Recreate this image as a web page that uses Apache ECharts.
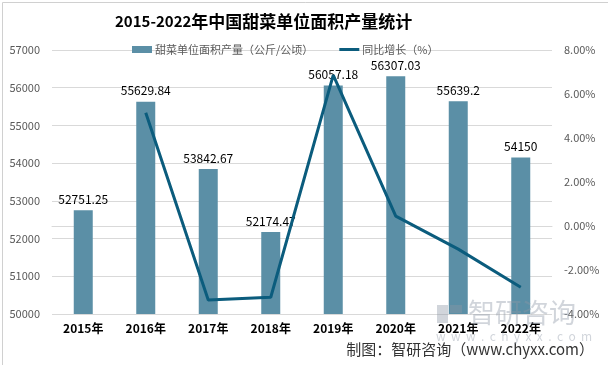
<!DOCTYPE html>
<html><head><meta charset="utf-8">
<script src="https://cdn.jsdelivr.net/npm/echarts@6/dist/echarts.min.js"></script>
<style>html,body{margin:0;padding:0;background:#fff}#c{width:608px;height:365px}</style>
</head><body><div id="c"></div>
<script>
const categories = ['2015年','2016年','2017年','2018年','2019年','2020年','2021年','2022年'];
const yieldValues = [52751.25, 55629.84, 53842.67, 52174.47, 56057.18, 56307.03, 55639.2, 54150];
const growthValues = [null, 5.15, -3.36, -3.24, 6.86, 0.45, -1.05, -2.78];
const leftTicks = {min: 50000, max: 57000, interval: 1000};
const rightTicks = {min: -4, max: 8, interval: 2};

const chart = echarts.init(document.getElementById('c'), null, {renderer: 'canvas'});
const font = '"Noto Sans CJK SC","Noto Sans",sans-serif';
const wm = 'rgba(140,150,165,0.4)';
chart.setOption({
  animation: false,
  backgroundColor: '#fff',
  title: {
    text: '{a|2015-2022}{b|年中国甜菜单位面积产量统计}',
    left: 110, top: 8,
    textStyle: {
      rich: {
        a: {fontSize: 15, fontWeight: 'bold', color: '#000', fontFamily: font},
        b: {fontSize: 17, fontWeight: 'bold', color: '#000', fontFamily: font}
      }
    }
  },
  legend: {
    top: 39, left: 127, itemGap: 26,
    symbolKeepAspect: true,
    textStyle: {fontSize: 11, color: '#595959', fontFamily: font, padding: [0, 0, 0, -2]},
    data: [
      {name: '甜菜单位面积产量（公斤/公顷）', icon: 'rect'},
      {name: '同比增长（%）', icon: 'path://M0,0 L20,0 L20,3 L0,3 Z', itemStyle: {color: '#0b5c7d'}}
    ],
    itemWidth: 20, itemHeight: 7
  },
  grid: {left: 52, right: 56, top: 50, bottom: 51},
  xAxis: {
    type: 'category', data: categories,
    axisLine: {lineStyle: {color: '#d9d9d9'}},
    axisTick: {show: false},
    axisLabel: {color: '#000', fontWeight: 'bold', fontSize: 12, margin: 8, fontFamily: font}
  },
  yAxis: [
    {type: 'value', min: leftTicks.min, max: leftTicks.max, interval: leftTicks.interval,
     axisLine: {show: false}, axisTick: {show: false},
     axisLabel: {color: '#595959', fontSize: 11, margin: 12, fontFamily: font, formatter: v => String(v)},
     splitLine: {lineStyle: {color: '#d9d9d9'}}},
    {type: 'value', min: rightTicks.min, max: rightTicks.max, interval: rightTicks.interval,
     axisLine: {show: false}, axisTick: {show: false}, splitLine: {show: false},
     axisLabel: {color: '#595959', fontSize: 11, margin: 12, fontFamily: font,
       formatter: v => v.toFixed(2) + '%'}}
  ],
  series: [
    {name: '甜菜单位面积产量（公斤/公顷）', type: 'bar', data: yieldValues, barWidth: 19,
     itemStyle: {color: '#5b8fa6'},
     label: {show: true, position: 'top', distance: 5, color: '#000', fontSize: 12, fontFamily: font}},
    {name: '同比增长（%）', type: 'line', yAxisIndex: 1, data: growthValues,
     symbol: 'none', lineStyle: {color: '#0b5c7d', width: 3}, itemStyle: {color: '#0b5c7d'}}
  ],
  graphic: [
    {type: 'rect', left: 0, top: 0, shape: {width: 607, height: 364},
     style: {fill: 'none', stroke: '#d0d0d0', lineWidth: 1}, silent: true},
    {type: 'rect', left: 437, top: 305, z: 100, shape: {width: 11, height: 18}, style: {fill: wm}},
    {type: 'rect', left: 450, top: 305, z: 100, shape: {width: 12, height: 8}, style: {fill: wm}},
    {type: 'text', left: 468, top: 299, z: 100,
     style: {text: '智研咨询', fontSize: 27, fill: wm, fontFamily: font}},
    {type: 'text', left: 436, top: 330, z: 100,
     style: {text: 'w  w  w  .  c  h  y  x  x  .  c  o  m', fontSize: 12, fill: wm, fontFamily: font}},
    {type: 'text', right: 14, top: 342,
     style: {text: '制图：智研咨询（www.chyxx.com）', fontSize: 15, fill: '#333', fontFamily: font}}
  ]
});
</script></body></html>
